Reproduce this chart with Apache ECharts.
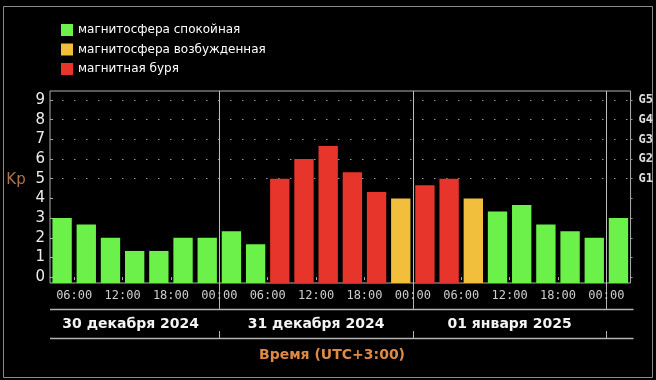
<!DOCTYPE html>
<html><head><meta charset="utf-8">
<script src="https://cdn.jsdelivr.net/npm/echarts@6/dist/echarts.min.js"></script>
<style>html,body{margin:0;padding:0;background:#000;}#c{width:656px;height:380px;}</style>
</head><body><div id="c"></div>
<script>
// 3-hour periods (start times), 30.12.2024 03:00 … 02.01.2025 00:00
const periods = ['30.12 03:00','30.12 06:00','30.12 09:00','30.12 12:00','30.12 15:00','30.12 18:00','30.12 21:00',
  '31.12 00:00','31.12 03:00','31.12 06:00','31.12 09:00','31.12 12:00','31.12 15:00','31.12 18:00','31.12 21:00',
  '01.01 00:00','01.01 03:00','01.01 06:00','01.01 09:00','01.01 12:00','01.01 15:00','01.01 18:00','01.01 21:00',
  '02.01 00:00'];
const kp = [3, 2.67, 2, 1.33, 1.33, 2, 2, 2.33, 1.67, 5, 6, 6.67, 5.33, 4.33, 4, 4.67, 5, 4, 3.33, 3.67, 2.67, 2.33, 2, 3];
// q = спокойная, a = возбужденная, s = буря
const status = ['q','q','q','q','q','q','q','q','q','s','s','s','s','s','a','s','s','a','q','q','q','q','q','q'];
const statusKeys = ['q','a','s'];
const legendNames = ['магнитосфера спокойная','магнитосфера возбужденная','магнитная буря'];
const kpTicks = [0,1,2,3,4,5,6,7,8,9];
const gLevels = [5,6,7,8,9];
const gLabels = ['G1','G2','G3','G4','G5'];
// hours since 30.12 03:00
const timeTickHours = [3,9,15,21,27,33,39,45,51,57,63,69];
const timeLabels = ['06:00','12:00','18:00','00:00','06:00','12:00','18:00','00:00','06:00','12:00','18:00','00:00'];
const totalHours = 72;
const dayStartHours = [0,21,45];
const dayEndHours = [21,45,69];
const dayLabels = ['30 декабря 2024','31 декабря 2024','01 января 2025'];
const axisTitle = 'Время (UTC+3:00)';
const yName = 'Kp';

const colors = {q:'#6cf04a', a:'#f2bf3c', s:'#e8352b'};
const chart = echarts.init(document.getElementById('c'), null, {renderer:'canvas'});

const barSeries = statusKeys.map((k,i)=>({
  name: legendNames[i], type:'bar', xAxisIndex:0, yAxisIndex:0,
  barGap:'-100%', barCategoryGap:'20%', z:3,
  itemStyle:{color:colors[k]},
  data: kp.map((v,j)=> status[j]===k ? v : '-'),
  animation:false
}));

const helper = {
  type:'line', xAxisIndex:1, yAxisIndex:0, data:[], silent:true, z:1,
  markLine:{silent:true, symbol:'none', animation:false, z:1, label:{show:false},
    data:[
      ...gLevels.map(v=>({yAxis:v, lineStyle:{type:[1.5,10.5], color:'#9a9a9a', width:1}})),
      ...dayEndHours.map(h=>({xAxis:h, lineStyle:{type:'solid', color:'#bdbdbd', width:1}}))
    ]}
};

const option = {
  backgroundColor:'#000',
  animation:false,
  legend:{data:legendNames, orient:'vertical', left:61, top:24, padding:0, itemWidth:12, itemHeight:12, itemGap:7.5,
    icon:'rect', selectedMode:false, textStyle:{color:'#fff', fontSize:12, fontFamily:'DejaVu Sans'}},
  grid:{left:50, right:25, top:91, bottom:97, show:true, borderColor:'#b0b0b0', borderWidth:1},
  xAxis:[
    {type:'category', data:periods, position:'top', show:false},
    {type:'value', min:0, max:totalHours, position:'bottom',
      axisLine:{show:false}, splitLine:{show:false},
      axisTick:{show:true, length:3, customValues:timeTickHours, lineStyle:{color:'#aaa'}},
      axisLabel:{customValues:timeTickHours, formatter:v=>timeLabels[timeTickHours.indexOf(v)],
        color:'#cfcfcf', fontSize:12, fontFamily:'DejaVu Sans Mono', margin:7}}
  ],
  yAxis:[
    {type:'value', position:'left', min:-0.3, max:9.46, startValue:-0.3,
      splitLine:{show:false}, axisLine:{show:false},
      axisTick:{show:true, inside:true, length:3, customValues:kpTicks, lineStyle:{color:'#aaa'}},
      axisLabel:{customValues:kpTicks, color:'#eeeeee', fontSize:15, fontFamily:'DejaVu Sans', margin:5}},
    {type:'value', position:'right', min:-0.3, max:9.46,
      splitLine:{show:false}, axisLine:{show:false},
      axisTick:{show:true, length:2, customValues:kpTicks, lineStyle:{color:'#999'}},
      axisLabel:{customValues:gLevels, formatter:v=>gLabels[gLevels.indexOf(v)],
        color:'#e0e0e0', fontSize:12, fontWeight:'bold', fontFamily:'DejaVu Sans Mono', margin:8}}
  ],
  series:[...barSeries, helper]
};
chart.setOption(option);

// decorations below the plot, positioned through the axes
const px = h => Math.round(chart.convertToPixel({xAxisIndex:1}, h)) + 0.5;
const xL = px(0) - 0.5, xR = px(totalHours) + 2;
const yAxisBottom = Math.round(chart.convertToPixel({yAxisIndex:0}, -0.3));
const lineGray = '#b4b4b4';
const g = [];
dayEndHours.forEach(h=>{
  const x = px(h);
  g.push({type:'line', shape:{x1:x, y1:yAxisBottom, x2:x, y2:309}, style:{stroke:lineGray, lineWidth:1}, silent:true});
  g.push({type:'line', shape:{x1:x, y1:331, x2:x, y2:338}, style:{stroke:lineGray, lineWidth:1}, silent:true});
});
g.push({type:'line', shape:{x1:xL, y1:309.5, x2:xR, y2:309.5}, style:{stroke:lineGray, lineWidth:1.5}, silent:true});
g.push({type:'line', shape:{x1:xL, y1:338.5, x2:xR, y2:338.5}, style:{stroke:lineGray, lineWidth:1.5}, silent:true});
dayLabels.forEach((t,i)=>{
  const x = chart.convertToPixel({xAxisIndex:1}, (dayStartHours[i]+dayEndHours[i])/2);
  g.push({type:'text', style:{text:t, x:x - (i===0 ? 4 : 0), y:324, align:'center', verticalAlign:'middle',
    fill:'#f4f4f4', font:'bold 14px "DejaVu Sans"'}, silent:true});
});
g.push({type:'text', style:{text:axisTitle, x:332, y:355, align:'center', verticalAlign:'middle',
  fill:'#dd8a45', font:'bold 14px "DejaVu Sans"'}, silent:true});
g.push({type:'text', style:{text:yName, x:16, y:180, align:'center', verticalAlign:'middle',
  fill:'#b0744a', font:'15px "DejaVu Sans"'}, silent:true});
g.push({type:'rect', shape:{x:3.5, y:6.5, width:649, height:371}, style:{fill:'none', stroke:'#8a8a8a', lineWidth:1}, silent:true});
chart.setOption({graphic:g});
</script></body></html>
